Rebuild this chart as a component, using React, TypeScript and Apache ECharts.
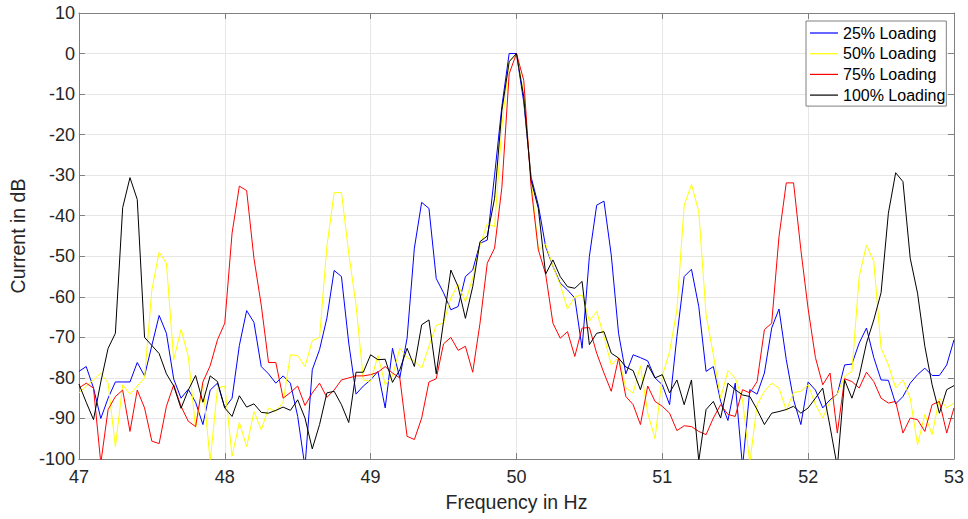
import React, { useEffect, useRef } from "react";
import * as echarts from "echarts";

// Frequency sampling of the spectra (Hz)
const FREQ_START = 47;
const FREQ_STEP = 0.05;

const X_MIN = 47;
const X_MAX = 53;
const Y_MIN = -100;
const Y_MAX = 10;

const SERIES_NAMES = ["25% Loading", "50% Loading", "75% Loading", "100% Loading"];

const load25 = [
  -78.4, -77.2, -82.5, -90, -85, -81, -81, -81, -76.2, -79.5,
  -72, -64.6, -69, -80.3, -85, -82.8, -86, -91.5, -83, -81.3,
  -87.4, -85, -72, -63.4, -66.3, -77.2, -79, -81.3, -79.5, -81.3,
  -89.5, -102, -78, -73, -65.3, -53.5, -55, -71.4, -84, -82,
  -80.5, -78.4, -87.4, -72.7, -80, -70.2, -48, -36.7, -38.2, -55.5,
  -59, -63.2, -62.4, -55, -53.4, -46.8, -46, -30, -13, 0,
  0, -12, -30.4, -37.4, -47.6, -52.5, -56.6, -58.3, -60.3, -72.7,
  -50, -37.4, -36.4, -49.7, -69, -79, -74.3, -75, -75.8, -80,
  -81.7, -86.6, -69.8, -55, -53.2, -62.4, -78.4, -77.2, -85.8, -90.5,
  -81.3, -102, -82.9, -84, -78.8, -67.7, -63, -75.5, -85.4, -91.5,
  -81, -83, -87.4, -85.4, -84, -76.8, -76.6, -71.4, -67.7, -75,
  -80.5, -80.6, -86.4, -84.6, -81.3, -79.2, -77.6, -79.4, -79.4, -76.8,
  -70.6,
];

const load50 = [
  -83.7, -82, -80.5, -78.8, -81.3, -97, -81.7, -84, -82, -80,
  -58.3, -49, -51.7, -75.5, -68, -74.7, -92.4, -81.5, -100.5, -82.5,
  -82, -99.3, -91, -97, -88.3, -92.8, -87.4, -88.3, -86, -74.3,
  -74.5, -77.2, -70.8, -70, -47.6, -34.3, -34.3, -49.3, -62, -80.5,
  -80.9, -74.5, -81.7, -79.5, -72.7, -75, -75.8, -77.6, -72.2, -67,
  -66.5, -60.3, -57, -61.2, -55.4, -47.2, -42, -42.7, -18, -2,
  0, -10, -31, -48.4, -47, -52.5, -57, -63, -60, -59.5,
  -66, -63.6, -69.8, -76.8, -75, -82.5, -83.7, -77, -88.7, -95,
  -79.5, -73.5, -63.2, -37.4, -32.3, -39, -64.4, -74.3, -85, -78.2,
  -80, -85.4, -101, -86.6, -83.3, -81.3, -82.5, -88, -83.6, -83.3,
  -81.7, -86.6, -89.9, -85.8, -84, -79.6, -78.4, -55, -47.2, -51.3,
  -72.7, -76.8, -82.5, -80.5, -85, -96.5, -89, -94, -85, -87.4,
  -86.2,
];

const load75 = [
  -82.5, -81.3, -82.5, -101, -87.8, -84.6, -83, -93.2, -83, -87.4,
  -95.6, -96.2, -87, -81.7, -87, -90.7, -92, -81, -77, -70.6,
  -66.5, -44.3, -32.7, -33.8, -50.5, -62, -76.2, -76.2, -85, -83.6,
  -82, -86.8, -83.7, -81.3, -84.8, -83, -80.5, -80, -79.5, -79.5,
  -79.2, -78.6, -77.2, -78.8, -80, -94.4, -95.2, -89.9, -81, -80.2,
  -71.6, -70, -73.2, -72.2, -78.6, -66.5, -51.7, -48, -33, -5,
  0, -6.6, -32.8, -48.4, -54.4, -66.5, -70.2, -68.6, -74.7, -67.7,
  -67.6, -73.9, -78.8, -83.3, -75.1, -84.6, -86.6, -91.5, -82, -85.8,
  -87, -88.7, -93, -91.8, -92, -93.2, -94, -89.9, -86.6, -89,
  -89.5, -82.9, -83.7, -80.9, -68.1, -66.5, -45.2, -31.9, -31.9, -48.4,
  -63, -75, -81.7, -78.8, -93.6, -80.2, -80.9, -82.5, -78.6, -80.9,
  -85, -86.2, -85.8, -93.6, -89.9, -90.3, -93.2, -86.6, -85.8, -93.6,
  -87.4,
];

const load100 = [
  -81.5, -86, -90.3, -81, -72.7, -69, -38, -30.6, -36, -70,
  -72, -74, -79, -82, -87.5, -83, -79.4, -86, -79.5, -80.9,
  -87.4, -89.5, -84.4, -87.2, -86.4, -88.5, -88.7, -88, -87.2, -88,
  -85.4, -89.9, -97.5, -91.5, -83.7, -83.3, -86.6, -91, -78.6, -78.6,
  -74.3, -75.5, -75.4, -81.1, -78, -72.7, -77.2, -66.9, -65.7, -79,
  -66.1, -53.4, -57.5, -65.3, -57.5, -46.4, -45, -35.7, -14, -2,
  0, -10.7, -31.2, -38.2, -54.4, -50.9, -55, -57.5, -57.9, -56.2,
  -71.8, -69, -68.6, -73.9, -75.1, -77.3, -78.2, -82.9, -76.8, -80,
  -79.2, -83.7, -80.5, -86.6, -80.5, -100.5, -87.8, -85.8, -89.9, -81.3,
  -82.9, -84.2, -84.6, -87.8, -91.5, -88.7, -88.3, -87.8, -87, -88.7,
  -87.4, -85, -82.5, -92, -102, -80.5, -85, -79.6, -71.4, -65.7,
  -59, -39.4, -29.4, -31.6, -50.5, -59.1, -72.2, -81.7, -88.7, -82.9,
  -81.9,
];

const SERIES_VALUES = [load25, load50, load75, load100];
const SERIES_COLORS = ["#0000ff", "#ffff00", "#ff0000", "#000000"];

const toPairs = (vals: number[]) =>
  vals.map((v, i) => [Number((FREQ_START + i * FREQ_STEP).toFixed(2)), v]);

const FONT = "'Liberation Sans', Arial, Helvetica, sans-serif";
const AXIS_COLOR = "#808080";
const TEXT_COLOR = "#262626";
const GRID_COLOR = "#e6e6e6";

export default function App() {
  const ref = useRef<HTMLDivElement>(null);

  useEffect(() => {
    if (!ref.current) return;
    const chart = echarts.init(ref.current, undefined, { renderer: "svg" });

    const boxAxisX = (pos: "bottom" | "top", main: boolean) => ({
      type: "value",
      position: pos,
      min: X_MIN,
      max: X_MAX,
      interval: 1,
      axisLine: { show: true, onZero: false, lineStyle: { color: AXIS_COLOR, width: 1 } },
      axisTick: { show: true, inside: true, length: 6, lineStyle: { color: AXIS_COLOR } },
      axisLabel: main
        ? { show: true, color: TEXT_COLOR, fontSize: 18, fontFamily: FONT, margin: 9 }
        : { show: false },
      splitLine: main ? { show: true, lineStyle: { color: GRID_COLOR, width: 1 } } : { show: false },
      ...(main
        ? {
            name: "Frequency in Hz",
            nameLocation: "middle",
            nameGap: 33,
            nameTextStyle: { color: TEXT_COLOR, fontSize: 19.5, fontFamily: FONT },
          }
        : {}),
    });

    const boxAxisY = (pos: "left" | "right", main: boolean) => ({
      type: "value",
      position: pos,
      min: Y_MIN,
      max: Y_MAX,
      interval: 10,
      axisLine: { show: true, onZero: false, lineStyle: { color: AXIS_COLOR, width: 1 } },
      axisTick: { show: true, inside: true, length: 6, lineStyle: { color: AXIS_COLOR } },
      axisLabel: main
        ? { show: true, color: TEXT_COLOR, fontSize: 18, fontFamily: FONT, margin: 4 }
        : { show: false },
      splitLine: main ? { show: true, lineStyle: { color: GRID_COLOR, width: 1 } } : { show: false },
      ...(main
        ? {
            name: "Current in dB",
            nameLocation: "middle",
            nameGap: 47,
            nameTextStyle: { color: TEXT_COLOR, fontSize: 19.5, fontFamily: FONT },
          }
        : {}),
    });

    chart.setOption({
      animation: false,
      backgroundColor: "#ffffff",
      textStyle: { fontFamily: FONT },
      grid: { left: 75, right: 14, top: 13, bottom: 60, containLabel: false },
      xAxis: [boxAxisX("bottom", true), boxAxisX("top", false)],
      yAxis: [boxAxisY("left", true), boxAxisY("right", false)],
      legend: {
        show: true,
        orient: "vertical",
        left: 806,
        top: 21,
        icon: "rect",
        itemWidth: 28,
        itemHeight: 1.2,
        itemGap: 4.7,
        padding: [4, 1, 3, 4],
        backgroundColor: "#ffffff",
        borderColor: AXIS_COLOR,
        borderWidth: 1,
        borderRadius: 0,
        textStyle: { color: "#000000", fontSize: 16, fontFamily: FONT, lineHeight: 16 },
        data: SERIES_NAMES,
      },
      series: SERIES_VALUES.map((vals, i) => ({
        name: SERIES_NAMES[i],
        type: "line",
        xAxisIndex: 0,
        yAxisIndex: 0,
        data: toPairs(vals),
        symbol: "none",
        showSymbol: false,
        clip: true,
        lineStyle: { color: SERIES_COLORS[i], width: 1 },
        itemStyle: { color: SERIES_COLORS[i] },
        emphasis: { disabled: true },
        z: 2 + i,
      })),
    });

    return () => {
      chart.dispose();
    };
  }, []);

  return (
    <div
      ref={ref}
      style={{ position: "fixed", left: 0, top: 0, width: 968, height: 519, background: "#fff" }}
    />
  );
}
